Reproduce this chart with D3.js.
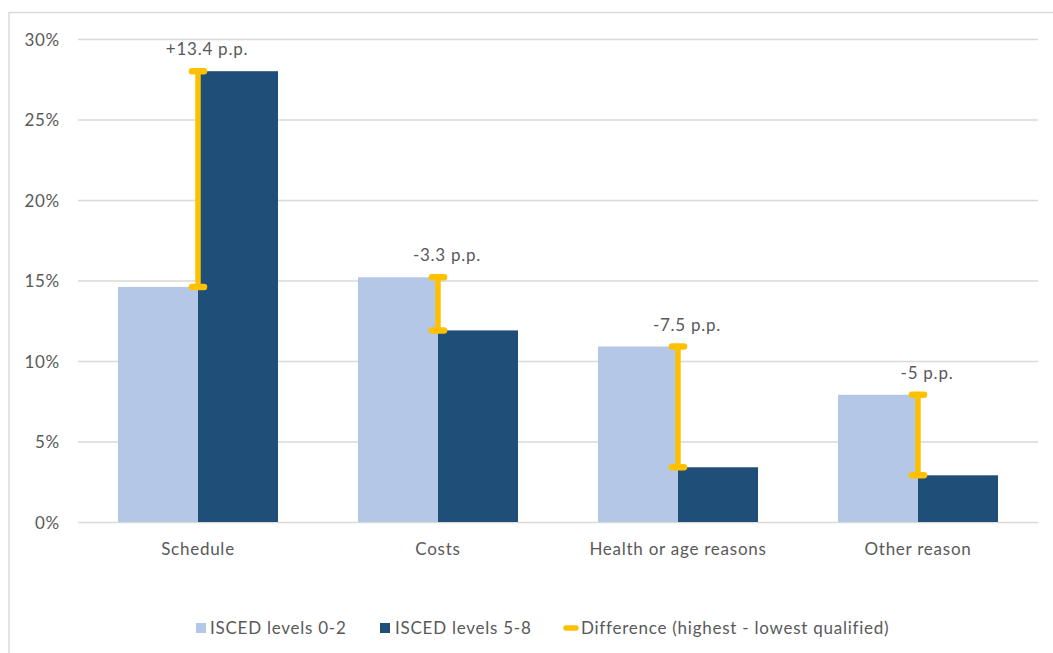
<!DOCTYPE html>
<html><head><meta charset="utf-8">
<script src="https://cdn.jsdelivr.net/npm/d3@7"></script>
<style>
body{margin:0;background:#fff}
text{font-family:Lato,"Open Sans",sans-serif;fill:#595959;letter-spacing:0.75px}
</style>
</head><body><svg id="chart" width="1053" height="653"></svg>
<script>
const categories = ["Schedule", "Costs", "Health or age reasons", "Other reason"];
const lowQualified = [14.6, 15.2, 10.9, 7.9];
const highQualified = [28.0, 11.9, 3.4, 2.9];
const differenceLabels = ["+13.4 p.p.", "-3.3 p.p.", "-7.5 p.p.", "-5 p.p."];
const yTicks = [0, 5, 10, 15, 20, 25, 30];
const seriesNames = ["ISCED levels 0-2", "ISCED levels 5-8", "Difference (highest - lowest qualified)"];

const colors = {low: "#B4C7E7", high: "#1F4E79", diff: "#FFC000", grid: "#D9D9D9"};
const svg = d3.select("#chart");
const fs = 17;

// outer border
svg.append("rect").attr("x", 9).attr("y", 12.5).attr("width", 1100).attr("height", 700)
  .attr("fill", "none").attr("stroke", colors.grid).attr("stroke-width", 1.5);

const x = d3.scaleBand().domain(categories).range([78, 1038]).paddingInner(0).paddingOuter(0);
const x1 = d3.scaleBand().domain(["low", "high"]).range([0, x.bandwidth()]).paddingInner(0).paddingOuter(0.5);
const y = d3.scaleLinear().domain([0, 30]).range([522, 39]);

// y axis with gridlines
const yAxis = svg.append("g").attr("transform", "translate(78,0)")
  .call(d3.axisLeft(y).tickValues(yTicks).tickFormat(d => d + "%").tickSize(-960).tickPadding(18));
yAxis.select(".domain").remove();
yAxis.selectAll("line").attr("stroke", colors.grid).attr("stroke-width", 1.3);
yAxis.selectAll("text").attr("font-family", "Lato").attr("font-size", fs).attr("fill", "#595959").attr("dy", "0.36em");

// x axis labels
const xAxis = svg.append("g").attr("transform", "translate(0,522)")
  .call(d3.axisBottom(x).tickSize(0));
xAxis.select(".domain").remove();
xAxis.selectAll("text").attr("font-family", "Lato").attr("font-size", fs).attr("fill", "#595959")
  .attr("y", 33).attr("dy", 0);

const data = categories.map((c, i) => ({c, low: lowQualified[i], high: highQualified[i], label: differenceLabels[i]}));

const g = svg.append("g");
g.selectAll("rect.low").data(data).join("rect").attr("class", "low")
  .attr("x", d => x(d.c) + x1("low")).attr("width", x1.bandwidth())
  .attr("y", d => y(d.low)).attr("height", d => y(0) - y(d.low)).attr("fill", colors.low);
g.selectAll("rect.high").data(data).join("rect").attr("class", "high")
  .attr("x", d => x(d.c) + x1("high")).attr("width", x1.bandwidth())
  .attr("y", d => y(d.high)).attr("height", d => y(0) - y(d.high)).attr("fill", colors.high);

// difference error bars
const cx = d => x(d.c) + x.bandwidth() / 2;
const eb = svg.append("g");
eb.selectAll("line.stem").data(data).join("line").attr("class", "stem")
  .attr("x1", cx).attr("x2", cx).attr("y1", d => y(d.low)).attr("y2", d => y(d.high))
  .attr("stroke", colors.diff).attr("stroke-width", 5.5);
["low", "high"].forEach(k => {
  eb.selectAll("line.cap-" + k).data(data).join("line").attr("class", "cap-" + k)
    .attr("x1", d => cx(d) - 6).attr("x2", d => cx(d) + 6)
    .attr("y1", d => y(d[k])).attr("y2", d => y(d[k]))
    .attr("stroke", colors.diff).attr("stroke-width", 6.5).attr("stroke-linecap", "round");
});

// labels
svg.append("g").selectAll("text").data(data).join("text")
  .attr("x", d => cx(d) + 9).attr("y", d => y(Math.max(d.low, d.high)) - 16)
  .attr("text-anchor", "middle").attr("font-size", fs).text(d => d.label);

// legend
const lg = svg.append("g");
const legendX = [196, 380, 563];
const textX = [210, 395, 581];
lg.append("rect").attr("x", legendX[0]).attr("y", 623).attr("width", 10).attr("height", 10).attr("fill", colors.low);
lg.append("rect").attr("x", legendX[1]).attr("y", 623).attr("width", 10).attr("height", 10).attr("fill", colors.high);
lg.append("line").attr("x1", legendX[2] + 3).attr("x2", legendX[2] + 13).attr("y1", 628).attr("y2", 628)
  .attr("stroke", colors.diff).attr("stroke-width", 5.5).attr("stroke-linecap", "round");
seriesNames.forEach((n, i) => {
  lg.append("text").attr("x", textX[i]).attr("y", 634).attr("font-size", fs).text(n);
});
</script>
</body></html>
